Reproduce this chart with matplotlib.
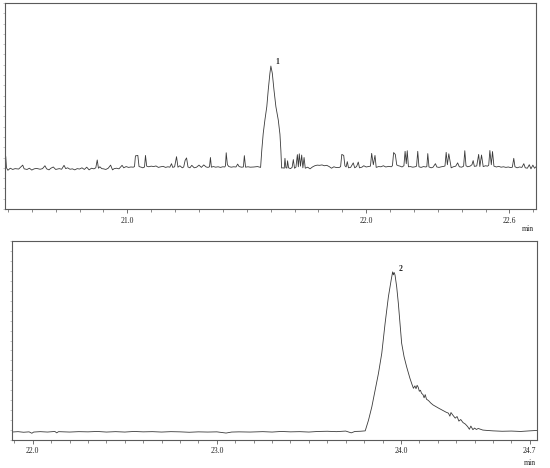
"""Two-panel chromatogram (peak 1 and peak 2)."""

import matplotlib

matplotlib.use("Agg")
import matplotlib.pyplot as plt
from matplotlib.ticker import MultipleLocator

# ----------------------------------------------------------------------
# Data (time in min, signal in % of frame)
# ----------------------------------------------------------------------
TOP_TIME = [
    20.489, 20.491, 20.494, 20.500, 20.510, 20.520, 20.530, 20.545, 20.562, 20.568,
    20.580, 20.590, 20.600, 20.610, 20.620, 20.635, 20.645, 20.655, 20.662, 20.672,
    20.680, 20.690, 20.700, 20.715, 20.725, 20.735, 20.742, 20.750, 20.760, 20.770,
    20.780, 20.790, 20.800, 20.810, 20.820, 20.830, 20.840, 20.850, 20.860, 20.868,
    20.874, 20.879, 20.885, 20.893, 20.900, 20.910, 20.920, 20.930, 20.938, 20.945,
    20.955, 20.965, 20.978, 20.985, 20.995, 21.005, 21.015, 21.025, 21.030, 21.034,
    21.044, 21.049, 21.058, 21.065, 21.072, 21.076, 21.081, 21.090, 21.100, 21.110,
    21.120, 21.130, 21.140, 21.150, 21.160, 21.170, 21.178, 21.185, 21.190, 21.198,
    21.206, 21.212, 21.220, 21.230, 21.236, 21.242, 21.248, 21.254, 21.262, 21.270,
    21.280, 21.290, 21.300, 21.310, 21.320, 21.330, 21.338, 21.344, 21.348, 21.352,
    21.360, 21.370, 21.380, 21.390, 21.400, 21.408, 21.411, 21.414, 21.419, 21.425,
    21.435, 21.445, 21.455, 21.462, 21.468, 21.478, 21.486, 21.490, 21.495, 21.505,
    21.515, 21.530, 21.545, 21.558, 21.563, 21.569, 21.576, 21.584, 21.590, 21.597,
    21.601, 21.607, 21.614, 21.622, 21.632, 21.639, 21.643, 21.646, 21.652, 21.657,
    21.660, 21.664, 21.668, 21.671, 21.675, 21.683, 21.690, 21.695, 21.700, 21.706,
    21.712, 21.716, 21.720, 21.725, 21.730, 21.735, 21.740, 21.745, 21.755, 21.765,
    21.775, 21.785, 21.795, 21.805, 21.815, 21.825, 21.835, 21.845, 21.855, 21.865,
    21.875, 21.888, 21.893, 21.898, 21.906, 21.911, 21.916, 21.921, 21.926, 21.935,
    21.946, 21.952, 21.960, 21.967, 21.972, 21.982, 21.990, 22.000, 22.010, 22.018,
    22.023, 22.030, 22.037, 22.042, 22.052, 22.062, 22.072, 22.082, 22.095, 22.105,
    22.110, 22.115, 22.122, 22.128, 22.135, 22.142, 22.150, 22.158, 22.163, 22.168,
    22.172, 22.177, 22.185, 22.195, 22.205, 22.211, 22.216, 22.221, 22.230, 22.240,
    22.250, 22.254, 22.258, 22.263, 22.272, 22.280, 22.290, 22.296, 22.305, 22.315,
    22.325, 22.330, 22.335, 22.340, 22.346, 22.356, 22.365, 22.375, 22.383, 22.390,
    22.400, 22.408, 22.413, 22.418, 22.425, 22.435, 22.443, 22.448, 22.453, 22.463,
    22.471, 22.476, 22.483, 22.490, 22.500, 22.508, 22.513, 22.518, 22.524, 22.529,
    22.535, 22.545, 22.555, 22.565, 22.575, 22.585, 22.595, 22.605, 22.612, 22.618,
    22.623, 22.632, 22.642, 22.652, 22.660, 22.666, 22.675, 22.683, 22.690, 22.698,
    22.705, 22.711,
]
TOP_SIGNAL = [
    21.0, 25.5, 20.0, 18.8, 19.8, 19.2, 19.6, 19.4, 21.3, 19.5,
    19.2, 19.8, 18.9, 19.5, 19.7, 19.3, 19.6, 21.0, 19.5, 19.0,
    19.8, 20.4, 19.2, 19.6, 19.3, 21.2, 19.6, 20.0, 19.3, 19.5,
    19.0, 19.6, 19.4, 20.0, 19.2, 20.3, 19.0, 19.8, 19.5, 20.0,
    23.8, 19.8, 20.5, 19.6, 19.5, 19.2, 19.8, 21.3, 19.0, 19.6,
    19.8, 19.5, 21.2, 20.0, 20.6, 20.2, 20.4, 20.3, 20.6, 25.8,
    26.0, 20.6, 20.3, 20.0, 20.4, 26.0, 20.8, 20.5, 20.8, 20.6,
    20.9, 20.2, 20.5, 20.7, 20.2, 20.5, 20.3, 22.0, 20.2, 20.5,
    25.4, 20.3, 21.0, 20.0, 20.4, 23.6, 24.8, 20.4, 20.0, 21.2,
    20.0, 20.3, 21.3, 20.2, 21.4, 20.4, 20.2, 20.5, 25.0, 20.3,
    20.6, 20.3, 20.5, 20.2, 20.5, 20.4, 21.0, 27.3, 21.5, 20.6,
    20.3, 20.5, 20.4, 21.8, 20.6, 20.3, 20.4, 25.9, 20.3, 20.5,
    20.3, 20.4, 20.6, 20.2, 28.6, 36.7, 43.2, 49.7, 57.8, 65.9,
    69.4, 65.9, 57.8, 49.7, 43.2, 36.3, 28.2, 19.9, 20.0, 19.8,
    24.6, 20.0, 19.9, 23.4, 20.0, 19.6, 20.2, 24.0, 19.8, 20.3,
    26.4, 20.5, 26.8, 20.8, 26.2, 20.0, 25.0, 19.8, 20.3, 19.5,
    20.4, 21.0, 21.3, 21.2, 21.4, 21.0, 21.2, 20.6, 19.8, 20.5,
    20.1, 20.2, 20.6, 26.5, 26.0, 21.0, 20.4, 23.0, 20.0, 20.2,
    22.4, 20.0, 20.6, 22.8, 20.0, 20.3, 21.0, 20.4, 20.6, 20.8,
    27.0, 21.5, 26.0, 20.2, 20.6, 20.5, 21.0, 20.4, 20.7, 20.5,
    21.0, 27.4, 26.5, 21.4, 21.0, 20.8, 20.4, 21.0, 28.0, 22.0,
    28.3, 20.5, 20.6, 20.3, 20.5, 20.8, 28.0, 20.5, 20.2, 20.6,
    20.4, 20.6, 26.9, 20.4, 20.0, 20.3, 22.0, 20.4, 20.2, 20.5,
    20.7, 20.9, 27.5, 21.5, 26.8, 20.0, 20.5, 20.8, 22.4, 20.5,
    20.3, 20.8, 28.3, 21.0, 20.5, 20.8, 21.5, 23.5, 20.7, 20.9,
    26.5, 20.6, 26.2, 20.6, 21.0, 20.8, 21.2, 28.4, 21.5, 27.9,
    20.8, 20.4, 20.7, 20.3, 20.5, 20.2, 20.4, 20.1, 20.3, 24.6,
    20.5, 20.0, 20.4, 20.2, 22.0, 20.0, 19.8, 21.5, 19.5, 21.3,
    19.8, 20.5,
]

BOTTOM_TIME = [
    21.885, 21.920, 21.950, 21.980, 21.995, 22.005, 22.040, 22.080, 22.120, 22.130,
    22.140, 22.200, 22.250, 22.300, 22.350, 22.400, 22.450, 22.500, 22.550, 22.600,
    22.650, 22.700, 22.750, 22.800, 22.850, 22.900, 22.950, 23.000, 23.050, 23.080,
    23.120, 23.180, 23.250, 23.300, 23.350, 23.400, 23.450, 23.500, 23.550, 23.600,
    23.650, 23.700, 23.730, 23.750, 23.780, 23.806, 23.824, 23.842, 23.860, 23.878,
    23.896, 23.914, 23.932, 23.947, 23.955, 23.959, 23.963, 23.968, 23.977, 23.986,
    23.995, 24.004, 24.017, 24.031, 24.049, 24.060, 24.068, 24.076, 24.082, 24.088,
    24.094, 24.100, 24.106, 24.112, 24.120, 24.126, 24.132, 24.139, 24.150, 24.162,
    24.175, 24.190, 24.205, 24.215, 24.229, 24.245, 24.258, 24.266, 24.272, 24.283,
    24.295, 24.305, 24.315, 24.325, 24.337, 24.350, 24.362, 24.372, 24.380, 24.391,
    24.400, 24.410, 24.420, 24.445, 24.470, 24.500, 24.550, 24.600, 24.650, 24.700,
    24.737,
]
BOTTOM_SIGNAL = [
    4.0, 4.2, 3.9, 4.1, 3.4, 4.0, 4.2, 4.0, 4.3, 3.6,
    4.2, 4.0, 4.2, 4.1, 4.3, 4.0, 4.2, 4.0, 4.3, 4.1,
    4.2, 4.0, 4.2, 4.1, 3.9, 4.1, 4.0, 4.1, 3.5, 4.0,
    4.1, 4.0, 4.2, 4.0, 4.3, 4.1, 4.2, 4.0, 4.3, 4.4,
    4.2, 4.5, 3.6, 4.3, 4.4, 4.6, 10.0, 16.7, 25.1, 33.5,
    43.6, 58.6, 72.0, 80.4, 84.5, 83.0, 84.2, 82.9, 77.0, 68.7,
    58.6, 48.6, 41.9, 36.8, 31.0, 28.0, 26.0, 27.2, 25.8, 27.5,
    26.5, 24.5, 25.0, 23.5, 22.8, 21.2, 22.8, 20.5, 19.8, 18.6,
    17.6, 16.8, 16.0, 15.5, 14.8, 14.0, 13.5, 12.0, 13.8, 12.4,
    11.0, 11.8, 9.5, 10.3, 8.8, 8.0, 6.8, 5.4, 7.0, 5.2,
    6.0, 5.3, 5.8, 5.0, 4.8, 4.6, 4.4, 4.5, 4.3, 4.6,
    4.8,
]

TOP_XLIM = (20.489, 22.711)
TOP_TICKS = [21.0, 22.0, 22.6]
TOP_TICK_LABELS = ["21.0", "22.0", "22.6"]
BOTTOM_XLIM = (21.885, 24.737)
BOTTOM_TICKS = [22.0, 23.0, 24.0, 24.7]
BOTTOM_TICK_LABELS = ["22.0", "23.0", "24.0", "24.7"]

PEAK_LABELS = ["1", "2"]
PEAK_LABEL_POS = [(21.627, 71.5), (24.0, 85.9)]

LINE_COLOR = "#3a3a3a"
AXIS_COLOR = "#5a5a5a"
FONT = ["Liberation Serif", "DejaVu Serif"]


def style_axis(ax, xlim, ticks, labels, pad=3) -> None:
    """Chromatogram-style frame: thin grey box, 0.1 min minor ticks."""
    ax.set_xlim(*xlim)
    ax.set_ylim(0, 100)
    for sp in ax.spines.values():
        sp.set_color(AXIS_COLOR)
        sp.set_linewidth(0.8)
    ax.set_xticks(ticks)
    ax.set_xticklabels(labels, family=FONT, fontsize=5.5, color="#222222")
    ax.xaxis.set_minor_locator(MultipleLocator(0.1))
    ax.tick_params(axis="x", which="major", length=3, width=0.6,
                   color=AXIS_COLOR, pad=pad)
    ax.tick_params(axis="x", which="minor", length=2, width=0.5, color=AXIS_COLOR)
    ax.yaxis.set_major_locator(MultipleLocator(5))
    ax.tick_params(axis="y", which="major", length=1.2, width=0.4,
                   color="#999999", labelleft=False)


fig = plt.figure(figsize=(5.5, 4.68), dpi=100)

ax_top = fig.add_axes([0.0096, 0.5534, 0.9649, 0.4402])
ax_top.plot(TOP_TIME, TOP_SIGNAL, color=LINE_COLOR, linewidth=0.6)
style_axis(ax_top, TOP_XLIM, TOP_TICKS, TOP_TICK_LABELS)

ax_bot = fig.add_axes([0.0211, 0.0598, 0.9545, 0.4252])
ax_bot.plot(BOTTOM_TIME, BOTTOM_SIGNAL, color=LINE_COLOR, linewidth=0.6)
style_axis(ax_bot, BOTTOM_XLIM, BOTTOM_TICKS, BOTTOM_TICK_LABELS, pad=2)

for ax, lab, (x, y) in zip((ax_top, ax_bot), PEAK_LABELS, PEAK_LABEL_POS):
    ax.text(x, y, lab, family=FONT, fontsize=5.5, fontweight="bold",
            ha="center", va="center", color="#222222")

# "min" unit under the right end of each time axis
fig.text(0.960, 0.511, "min", family=FONT, fontsize=5.5, ha="center",
         va="center", color="#222222")
fig.text(0.964, 0.011, "min", family=FONT, fontsize=5.5, ha="center",
         va="center", color="#222222")

fig.savefig("out.png", dpi=100, facecolor="white")
